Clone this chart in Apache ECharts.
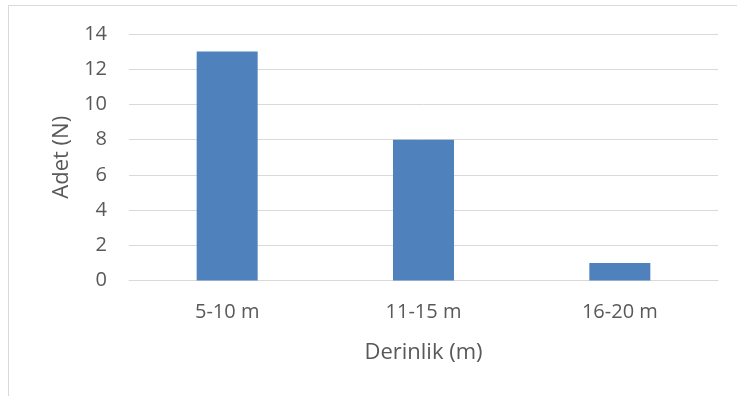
<!DOCTYPE html>
<html>
<head>
<meta charset="utf-8">
<script src="https://cdn.jsdelivr.net/npm/echarts@6/dist/echarts.min.js"></script>
<style>
  html, body { margin: 0; padding: 0; background: #fff; }
  #frame { position: absolute; left: 8px; top: 5px; width: 740px; height: 400px; border: 1px solid #D9D9D9; box-sizing: border-box; }
  #chart { position: absolute; left: 0; top: 0; width: 737px; height: 396px; }
</style>
</head>
<body>
<div id="frame"></div>
<div id="chart"></div>
<script>
// Number of records per depth band
const categories = ['5-10 m', '11-15 m', '16-20 m'];
const counts = [13, 8, 1];
const yTicks = { min: 0, max: 14, interval: 2 };

const font = '"Open Sans", "Noto Sans", sans-serif';
const chart = echarts.init(document.getElementById('chart'));
chart.setOption({
  animation: false,
  grid: { left: 129, right: 19, top: 34, bottom: 115.5, containLabel: false },
  xAxis: {
    type: 'category',
    data: categories,
    name: 'Derinlik (m)',
    nameLocation: 'middle',
    nameGap: 61,
    nameTextStyle: { color: '#595959', fontSize: 22, fontFamily: font },
    axisLine: { show: true, lineStyle: { color: '#D9D9D9', width: 1 } },
    axisTick: { show: false },
    axisLabel: { color: '#595959', fontSize: 20, fontFamily: font, margin: 22 }
  },
  yAxis: {
    type: 'value',
    min: yTicks.min,
    max: yTicks.max,
    interval: yTicks.interval,
    name: 'Adet (N)',
    nameLocation: 'middle',
    nameRotate: 90,
    nameGap: 55,
    nameTextStyle: { color: '#595959', fontSize: 22, fontFamily: font },
    axisLine: { show: false },
    axisTick: { show: false },
    axisLabel: { color: '#595959', fontSize: 20, fontFamily: font, margin: 22 },
    splitLine: { lineStyle: { color: '#D9D9D9', width: 1 } }
  },
  series: [{
    type: 'bar',
    data: counts,
    barWidth: 61,
    itemStyle: { color: '#4F81BD' }
  }]
});
</script>
</body>
</html>
